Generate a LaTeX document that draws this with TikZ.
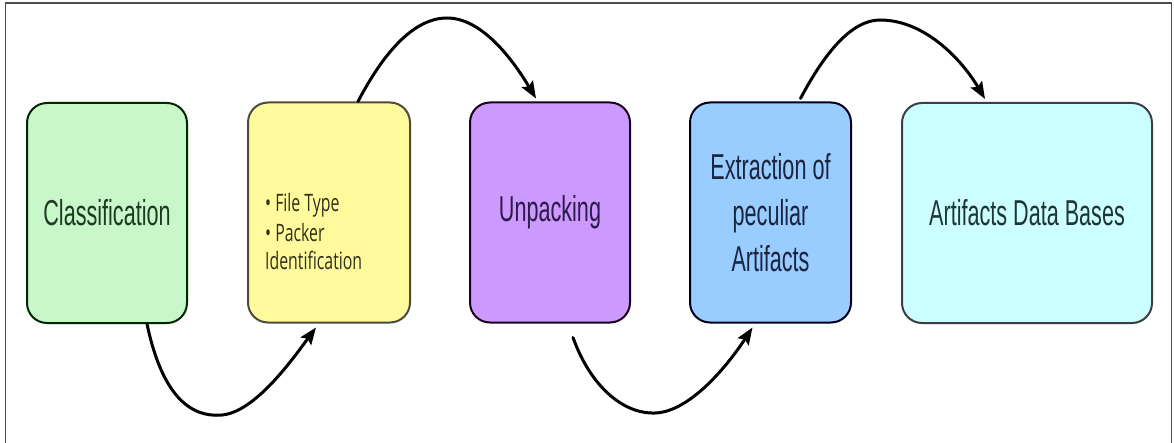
\documentclass[tikz,border=0pt]{standalone}
\usepackage{fontspec}
\usetikzlibrary{arrows.meta,calc}
\newfontfamily\boxfont[FakeStretch=0.6]{Liberation Sans}
\newfontfamily\listfont[FakeStretch=0.66]{Open Sans}
\definecolor{fgreen}{HTML}{C8F7CA}
\definecolor{fyellow}{HTML}{FFFB9C}
\definecolor{fpurple}{HTML}{CC99FF}
\definecolor{fblue}{HTML}{99CCFF}
\definecolor{fcyan}{HTML}{CCFFFF}
\definecolor{tgreen}{HTML}{1F3A22}
\definecolor{tyellow}{HTML}{30301A}
\definecolor{tpurple}{HTML}{2E1A4A}
\definecolor{tblue}{HTML}{1A2540}
\definecolor{tcyan}{HTML}{1F3535}
\tikzset{
  stage/.style={draw, line width=2pt, rounded corners=20pt, minimum width=160pt,
    minimum height=220pt, inner sep=2pt, align=center,
    font=\boxfont\fontsize{36}{45.7}\selectfont},
  flow/.style={line width=3pt, line cap=round, -{Stealth[length=17pt,width=13pt,inset=3pt]}},
  frame/.style={draw=black!70, line width=1.6pt}
}
\begin{document}
\begin{tikzpicture}[x=1pt,y=-1pt]
  \useasboundingbox (0,0) rectangle (1174,443);
  % outer frame (open at the bottom edge)
  \draw[frame] (5.5,450) -- (5.5,3) -- (1171.5,3) -- (1171.5,450);

  % process stages
  \node[stage, fill=fgreen, draw=black!60!green!40!black, text=tgreen]
    (cls) at (107,213) {Classification};
  \node[stage, fill=fyellow, draw=black!60!yellow!50!black, minimum width=162pt]
    (ftype) at (329,212.5) {};
  \node[anchor=west, align=left, inner sep=0pt, text=tyellow,
    font=\listfont\fontsize{24}{29}\selectfont]
    (ftxt) at (265,232) {\textbullet\ File Type\\ \textbullet\ Packer\\ Identification};
  \node[stage, fill=fpurple, draw=black!60!violet!50!black, text=tpurple]
    (unp) at (550,212.5) {Unpacking};
  \node[stage, fill=fblue, draw=black!65!blue!30!black, minimum width=161pt, text=tblue]
    (ext) at (770.5,212.5) {Extraction of\\peculiar\\Artifacts};
  \node[stage, fill=fcyan, draw=black!60!cyan!40!black, minimum width=250pt, text=tcyan]
    (adb) at (1027,213) {Artifacts Data Bases};

  % connectors between stages
  \draw[flow] ([xshift=40pt]cls.south)
    .. controls (162,395) and (190,418) .. (222,415)
    .. controls (255,412) and (292,360) .. ([xshift=-13pt,yshift=-4pt]ftype.south);
  \draw[flow] ([xshift=29pt]ftype.north)
    .. controls (385,50) and (415,18) .. (447,18)
    .. controls (480,18) and (510,55) .. ([xshift=-14pt,yshift=3pt]unp.north);
  \draw[flow] ([xshift=23pt,yshift=-14pt]unp.south)
    .. controls (590,385) and (622,414) .. (655,413)
    .. controls (690,412) and (728,365) .. ([xshift=-18pt,yshift=-4pt]ext.south);
  \draw[flow] ([xshift=30pt,yshift=3pt]ext.north)
    .. controls (825,52) and (852,20) .. (880,20)
    .. controls (925,20) and (962,60) .. ([xshift=-42pt,yshift=3pt]adb.north);
\end{tikzpicture}
\end{document}
